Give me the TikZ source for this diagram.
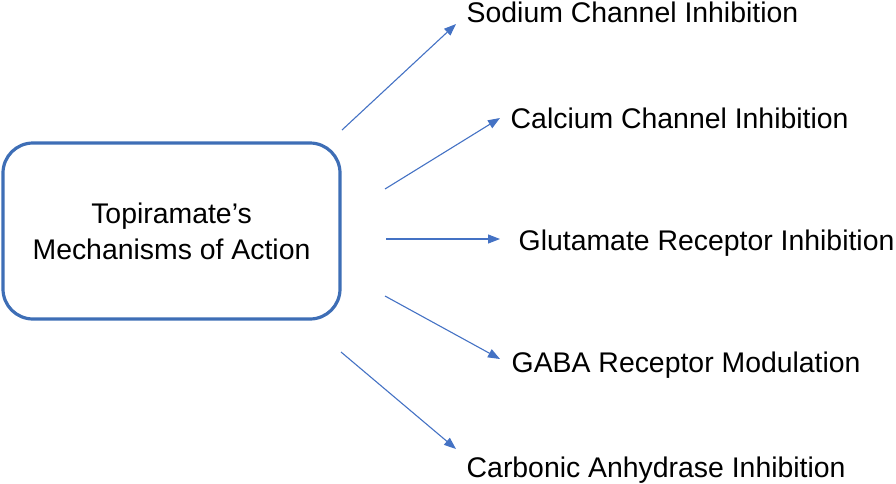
\documentclass[tikz,border=0pt]{standalone}
\usepackage{fontspec}
\setmainfont{Liberation Sans}
\usetikzlibrary{arrows.meta,positioning}
\definecolor{boxblue}{RGB}{62,110,182}
\definecolor{arrowblue}{RGB}{68,114,196}

\begin{document}
\begin{tikzpicture}[x=1pt, y=-1pt,
        every node/.style={font=\fontsize{28.4pt}{36pt}\selectfont},
        mechbox/.style={draw=boxblue, line width=3.2pt, rounded corners=30pt, minimum width=337pt, minimum height=176pt, align=center},
        effect/.style={anchor=base west, inner sep=0pt},
        link/.style={-{Triangle[length=12pt,width=9pt]}, arrowblue, line width=1.1pt}]
        \useasboundingbox (0,0) rectangle (896,483);

        % Centre
        \node[mechbox] (moa) at (171.5,231) {Topiramate’s\\Mechanisms of Action};

        % Effects
        \node[effect] (na) at (466.5,22) {Sodium Channel Inhibition};
        \node[effect] (ca) at (510.5,128) {Calcium Channel Inhibition};
        \node[effect] (glu) at (518.5,250) {Glutamate Receptor Inhibition};
        \node[effect] (gaba) at (511.5,372) {GABA Receptor Modulation};
        \node[effect] (cah) at (466.5,477) {Carbonic Anhydrase Inhibition};

        % Arrow ends
        \coordinate (na-from) at (342,130);   \coordinate (na-to) at (456,24);
        \coordinate (ca-from) at (385,189);   \coordinate (ca-to) at (500,118);
        \coordinate (glu-from) at (386,239);  \coordinate (glu-to) at (500,239);
        \coordinate (gaba-from) at (385,296); \coordinate (gaba-to) at (500,359);
        \coordinate (cah-from) at (341,352);  \coordinate (cah-to) at (456,449);

        % Arrows
        \draw[link] (na-from) -- (na-to);
        \draw[link] (ca-from) -- (ca-to);
        \draw[link] (glu-from) -- (glu-to);
        \draw[link] (gaba-from) -- (gaba-to);
        \draw[link] (cah-from) -- (cah-to);
    \end{tikzpicture}
\end{document}
